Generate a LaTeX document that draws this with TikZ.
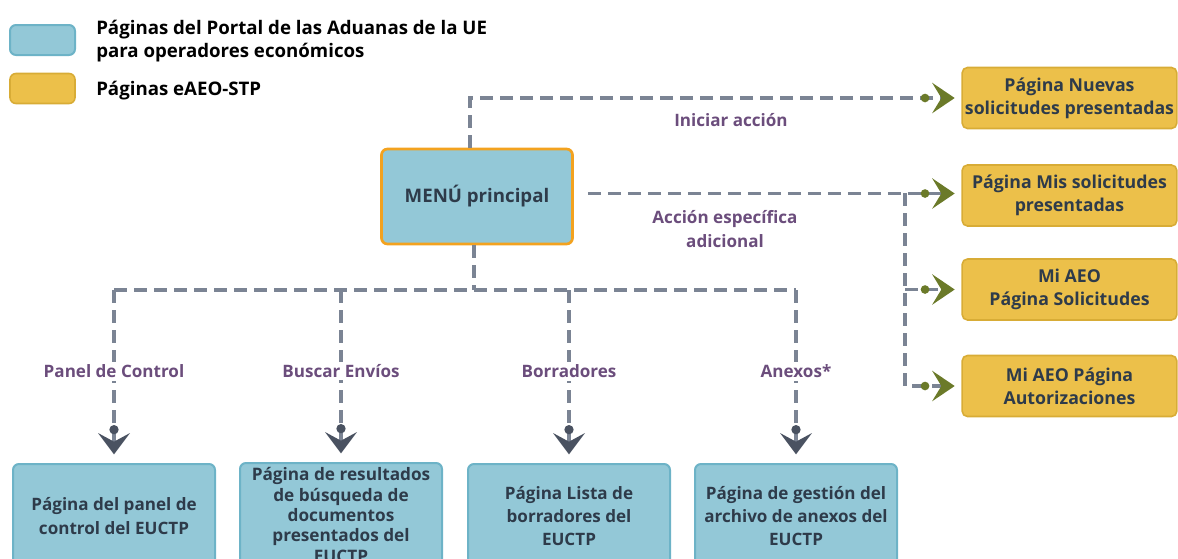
\documentclass[tikz,border=0pt]{standalone}
\usepackage{fontspec}
\setmainfont{Open Sans}
\usetikzlibrary{arrows.meta,calc}
\definecolor{bluefill}{HTML}{93C8D7}
\definecolor{blueline}{HTML}{6DB3C7}
\definecolor{orangeline}{HTML}{F3A21F}
\definecolor{yelfill}{HTML}{ECC04A}
\definecolor{yelline}{HTML}{D8AC36}
\definecolor{txt}{HTML}{2E3B4A}
\definecolor{lab}{HTML}{6B4D7C}
\definecolor{linegray}{HTML}{7B8494}
\definecolor{arrgreen}{HTML}{6B7A29}
\definecolor{arrdark}{HTML}{4A5261}
\tikzset{
  basefont/.style={font=\fontsize{12.8}{17.5}\selectfont\bfseries},
  bluebox/.style={basefont, draw=blueline, fill=bluefill, line width=1.5pt, rounded corners=4.5pt, text=txt, align=center, inner sep=0pt},
  yelbox/.style={font=\fontsize{13.3}{17.5}\selectfont\bfseries, draw=yelline, fill=yelfill, line width=1.2pt, rounded corners=4pt, text=txt, align=center, inner sep=0pt, minimum width=161pt, minimum height=45.75pt},
  botbox/.style={bluebox, minimum width=151.5pt, minimum height=78pt},
  conn/.style={draw=linegray, line width=2.3pt, dash pattern=on 9.5pt off 5.5pt},
  greentip/.style={-{Circle[length=6.5pt,width=6.5pt,sep=2pt,color=arrgreen,fill=arrgreen,line width=0pt] Stealth[length=17pt,width=23pt,inset=7pt,color=arrgreen,fill=arrgreen,line width=0pt]}, shorten >=5pt},
  darktip/.style={-{Circle[length=7pt,width=7pt,sep=-1pt,color=arrdark,fill=arrdark,line width=0pt] Stealth[length=16pt,width=24pt,inset=6.5pt,color=arrdark,fill=arrdark,line width=0pt]}, shorten >=6.5pt},
  lbl/.style={font=\fontsize{12.8}{17.5}\selectfont\bfseries, text=lab, align=center, fill=white, inner sep=2pt},
}
\begin{document}
\begin{tikzpicture}[x=0.75pt,y=-0.75pt]
\useasboundingbox (0,0) rectangle (1178,558);
\clip (0,0) rectangle (1178,558);
% legend
\node[bluebox, minimum width=48.75pt, minimum height=22.5pt] (legb) at (42.5,40) {};
\node[draw=yelline, fill=yelfill, line width=1.2pt, rounded corners=4.5pt, minimum width=48.75pt, minimum height=22.5pt, inner sep=0pt] (legy) at (42.5,88.5) {};
\node[font=\fontsize{14}{17.5}\selectfont\bfseries, anchor=west, align=left, text=black, inner sep=0pt] (legbt) at (96,41) {Páginas del Portal de las Aduanas de la UE\\para operadores económicos};
\node[font=\fontsize{14}{17.5}\selectfont\bfseries, anchor=west, text=black, inner sep=0pt] (legyt) at (96,91) {Páginas eAEO-STP};
% menu
\node[bluebox, font=\fontsize{14}{17.5}\selectfont\bfseries, draw=orangeline, line width=2pt, minimum width=143.25pt, minimum height=71.25pt] (menu) at (477,196.5) {MENÚ principal};
% yellow boxes
\node[yelbox] (y1) at (1069.5,98) {Página Nuevas\\solicitudes presentadas};
\node[yelbox] (y2) at (1069.5,195.5) {Página Mis solicitudes\\presentadas};
\node[yelbox] (y3) at (1069.5,289.5) {Mi AEO\\Página Solicitudes};
\node[yelbox] (y4) at (1069.5,386) {Mi AEO Página\\Autorizaciones};
% bottom boxes
\node[botbox] (b1) at (114,516) {Página del panel de\\control del EUCTP};
\node[botbox, font=\fontsize{12.9}{15.2}\selectfont\bfseries] (b2) at (341,515) {Página de resultados\\de búsqueda de\\documentos\\presentados del\\EUCTP};
\node[botbox] (b3) at (569,516) {Página Lista de\\borradores del\\EUCTP};
\node[botbox] (b4) at (796,516) {Página de gestión del\\archivo de anexos del\\EUCTP};
% connectors to the right
\coordinate (top) at ($(menu.north)+(-7,0)$);
\draw[conn, greentip] (top) |- (y1.west);
\coordinate (rs) at ($(menu.east)+(14,-3)$);
\draw[conn, greentip] (rs) -- (rs -| y2.west);
\coordinate (br) at (905,193);
\draw[conn, greentip] (br) |- (y4.west);
\draw[conn, greentip] (br |- y3.west) -- (y3.west);
% bottom bus
\coordinate (bus) at ($(menu.south)+(-3,0)$);
\coordinate (busy) at (0,290);
\draw[conn] (bus) -- (bus |- busy);
\draw[conn] (b1.north |- busy) -- (b4.north |- busy);
\draw[conn, darktip] (b1.north |- busy) -- node[lbl, pos=0.47] (l1) {Panel de Control} (b1.north);
\draw[conn, darktip] (b2.north |- busy) -- node[lbl, pos=0.47] (l2) {Buscar Envíos} (b2.north);
\draw[conn, darktip] (b3.north |- busy) -- node[lbl, pos=0.47] (l3) {Borradores} (b3.north);
\draw[conn, darktip] (b4.north |- busy) -- node[lbl, pos=0.47] (l4) {Anexos*} (b4.north);
% labels
\node[lbl] (ini) at (731,120) {Iniciar acción};
\node[lbl] (esp) at (725,229) {Acción específica\\adicional};
\end{tikzpicture}
\end{document}
